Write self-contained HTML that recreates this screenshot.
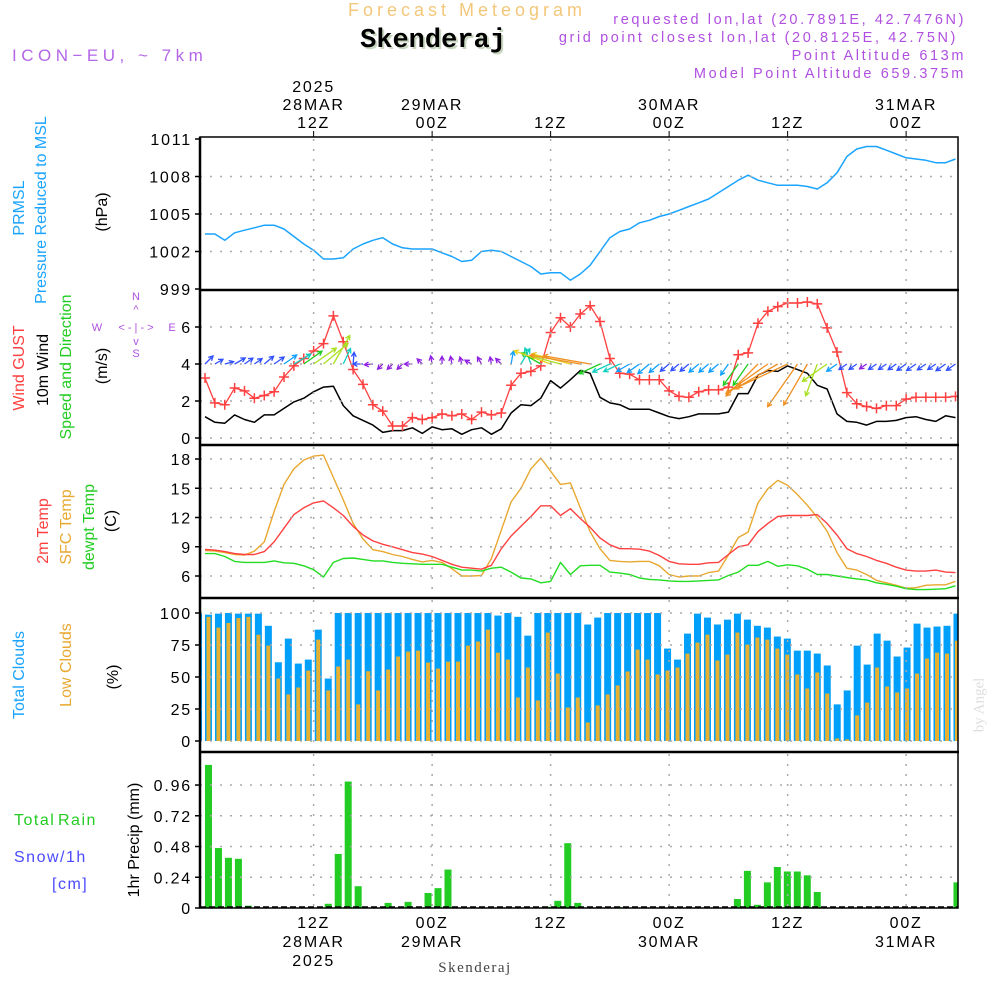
<!DOCTYPE html>
<html><head><meta charset="utf-8"><title>Forecast Meteogram Skenderaj</title>
<style>
html,body{margin:0;padding:0;background:#fff;}
svg{display:block;font-family:"Liberation Sans",sans-serif;}
.t{font-size:16px;fill:#000;letter-spacing:1.8px;}
</style></head>
<body>
<svg id="chart" width="1000" height="1000" viewBox="0 0 1000 1000" xmlns="http://www.w3.org/2000/svg">
<defs>
<clipPath id="cp"><rect x="200" y="137" width="758" height="771"/></clipPath>
</defs>
<text x="467" y="16" text-anchor="middle" font-size="18" fill="#f3c77a" letter-spacing="4">Forecast Meteogram</text>
<text x="435" y="49" text-anchor="middle" font-size="27" font-weight="bold" font-family="Liberation Mono, monospace" fill="#c9d6c0">Skenderaj</text>
<text x="433" y="47" text-anchor="middle" font-size="27" font-weight="bold" font-family="Liberation Mono, monospace" fill="#000">Skenderaj</text>
<text x="12" y="61" font-size="17" fill="#b366e8" letter-spacing="4.5">ICON−EU, ~ 7km</text>
<g font-size="14.5" fill="#b050e0" text-anchor="end" letter-spacing="2.6">
<text x="966" y="24">requested lon,lat (20.7891E, 42.7476N)</text>
<text x="958" y="42">grid point closest lon,lat (20.8125E, 42.75N)</text>
<text x="966" y="60">Point Altitude 613m</text>
<text x="966" y="78">Model Point Altitude 659.375m</text>
</g>
<g id="plots"></g>
<g id="labels"></g>
</svg>
<script>
// ---- data (hourly, 77 values) ----
const pressure = [1003.4,1003.4,1002.9,1003.5,1003.7,1003.9,1004.1,1004.1,1003.8,1003.2,
1002.6,1002.1,1001.4,1001.4,1001.5,1002.2,1002.6,1002.9,1003.1,1002.6,
1002.3,1002.2,1002.2,1002.2,1001.9,1001.6,1001.2,1001.3,1002.0,1002.1,
1002.0,1001.6,1001.2,1000.8,1000.2,1000.3,1000.3,999.7,1000.2,1000.9,
1002.0,1003.1,1003.6,1003.8,1004.3,1004.5,1004.8,1005.0,1005.3,1005.6,
1005.9,1006.2,1006.7,1007.2,1007.7,1008.1,1007.7,1007.5,1007.3,1007.3,
1007.3,1007.2,1007.0,1007.5,1008.3,1009.6,1010.2,1010.4,1010.4,1010.1,
1009.8,1009.5,1009.4,1009.3,1009.1,1009.1,1009.4];
const gust = [3.24,1.9,1.8,2.7,2.55,2.15,2.3,2.5,3.3,3.9,
4.3,4.7,5.1,6.6,5.2,3.7,2.9,1.8,1.45,0.65,
0.65,1.1,1.0,1.1,1.3,1.2,1.3,1.0,1.4,1.25,
1.35,2.85,3.5,3.6,3.9,5.7,6.5,6.0,6.7,7.15,
6.3,4.3,3.5,3.45,3.15,3.15,3.15,2.55,2.25,2.2,
2.5,2.6,2.6,2.75,4.5,4.6,6.2,6.85,7.1,7.3,
7.3,7.35,7.25,5.95,4.65,2.45,1.85,1.7,1.6,1.75,
1.75,2.1,2.2,2.2,2.2,2.2,2.25];
const windSpeed = [1.15,0.85,0.8,1.25,1.0,0.85,1.25,1.25,1.6,1.95,
2.15,2.5,2.75,2.8,1.75,1.2,0.95,0.7,0.3,0.4,
0.4,0.55,0.25,0.6,0.45,0.5,0.2,0.45,0.55,0.2,
0.5,1.35,1.8,1.75,2.15,3.1,2.7,3.15,3.65,3.5,
2.2,1.9,1.8,1.55,1.55,1.55,1.35,1.15,1.05,1.15,
1.3,1.3,1.3,1.4,2.4,2.4,3.4,3.65,3.6,3.9,
3.7,3.5,2.85,2.65,1.3,0.9,0.85,0.7,0.9,0.9,
0.95,1.1,1.15,1.0,0.9,1.2,1.1];
const windDir = [45,60,75,60,55,55,50,55,55,60,
55,55,50,30,25,5,270,265,225,225,
225,270,315,350,0,350,345,300,330,350,
315,10,30,340,300,290,285,285,280,280,
245,245,245,240,235,230,230,230,230,230,
230,230,230,215,215,215,225,235,240,245,
215,210,200,235,235,235,235,235,235,235,
235,235,235,235,235,235,235];
const temp2m = [8.72,8.66,8.5,8.3,8.2,8.2,8.5,9.5,10.9,12.3,
13.0,13.5,13.7,13.0,12.2,11.1,10.2,9.6,9.25,9.0,
8.7,8.4,8.25,8.0,7.6,7.2,6.9,6.8,6.7,7.1,
8.8,10.1,11.1,12.1,13.2,13.2,12.2,12.9,11.9,11.0,
9.9,9.2,8.8,8.8,8.75,8.55,8.1,7.5,7.25,7.2,
7.2,7.35,7.4,8.2,9.0,9.2,10.55,11.4,12.1,12.2,
12.2,12.2,12.3,11.4,10.2,8.8,8.3,8.0,7.6,7.3,
6.9,6.6,6.5,6.5,6.6,6.4,6.35];
const tempSfc = [8.6,8.55,8.4,8.2,8.15,8.55,9.5,12.6,15.4,17.0,
17.9,18.3,18.4,16.1,13.8,11.4,9.8,8.7,8.5,8.2,
8.0,7.7,7.45,7.6,7.4,6.75,6.0,6.0,6.05,7.8,
10.7,13.6,15.0,17.0,18.1,16.75,15.4,15.55,13.0,10.55,
8.8,7.6,7.5,7.45,7.5,7.5,7.05,6.15,5.9,6.0,
6.0,6.35,6.5,8.15,9.95,10.5,13.5,14.95,15.8,15.3,
14.35,13.25,12.0,10.6,8.4,6.8,6.6,6.15,5.55,5.3,
5.05,4.75,4.8,5.05,5.1,5.1,5.45];
const dewpoint = [8.3,8.3,8.0,7.5,7.4,7.4,7.4,7.55,7.35,7.3,
7.05,6.65,5.9,7.4,7.8,7.85,7.7,7.55,7.55,7.4,
7.3,7.25,7.2,7.2,7.2,6.9,6.6,6.6,6.5,6.8,
6.9,6.4,5.8,5.7,5.3,5.45,7.4,6.15,7.05,7.1,
7.1,6.4,6.3,6.15,5.8,5.65,5.6,5.5,5.45,5.45,
5.5,5.55,5.6,6.05,6.4,7.1,7.1,7.5,7.0,7.15,
7.05,6.7,6.15,6.15,6.0,5.85,5.7,5.6,5.3,5.15,
4.95,4.7,4.6,4.6,4.65,4.7,5.0];
const totalClouds = [99.5,98.7,99.5,100,99.5,99.5,99.5,90,61.5,80,
60.5,63.6,87,48.8,100,100,100,100,100,100,
100,100,100,100,100,100,100,100,100,100,
98,100,97,82.3,100,100,100,100,100,91,
96.4,100,100,100,100,100,100,72.2,63.6,83.9,
99.5,96.4,91,94.8,99.5,94.8,90,88.6,81.6,80,
70.6,70.6,68.3,59,28.6,39.5,74.5,59.7,83.9,78.4,
66,73,91.7,88.6,89.4,90,99.5];
const lowClouds = [97,97,88.6,92.2,96,97,83,74.5,48.8,36.4,
41.8,55,79.2,39.5,58.2,63.6,28.6,54.5,39.5,55.8,
66,69.9,70.6,61.3,56.6,62,62,74.5,77.7,87,
69,63.6,34,57.4,31.7,84.7,52.7,26.2,34,14.5,
27.8,36.4,43.4,54.3,71.4,63.6,52,55,57.4,68.3,
76.9,83.1,62.9,67.5,84.7,75.3,80.8,79.2,72.2,67.5,
52,41,53.5,37.1,2,1.3,20,30,57.4,42.6,
37.9,41,52.7,64.4,69,68.3,78.4];
const precip = [0,1.117,0.468,0.392,0.384,0.018,0,0,0,0,
0,0,0,0.033,0.422,0.987,0.17,0,0,0.04,
0,0.048,0,0.117,0.155,0.30,0.003,0,0,0,
0,0,0,0,0,0.01,0.056,0.506,0.04,0,
0,0,0.01,0,0,0,0,0,0,0,
0,0,0,0,0.07,0.29,0.025,0.20,0.32,0.285,
0.285,0.255,0.125,0,0,0,0,0,0,0,
0,0,0,0,0,0,0.20];
const timeTickLabels = ["12Z","00Z","12Z","00Z","12Z","00Z"];
const timeTickDates = ["28MAR","29MAR","","30MAR","","31MAR"];
const timeTickHours = [12,24,36,48,60,72];
const pTicks = [999,1002,1005,1008,1011];
const wTicks = [0,2,4,6];
const tTicks = [6,9,12,15,18];
const cTicks = [0,25,50,75,100];
const rTicks = [0,0.24,0.48,0.72,0.96];

// ---- scales ----
const X0 = 200, X1 = 958;
function xH(h){ return 205 + (h-1)*9.875; }
function xB(k){ return 198.5 + k*9.98; }
function yP(v){ return 289 - (v-999)*12.5; }
function yW(v){ return 438 - v*18.5; }
function yT(v){ return 576 - (v-6)*9.75; }
function yC(v){ return 741 - v*1.28; }
function yR(v){ return 908 - v*128.1; }

const NS = "http://www.w3.org/2000/svg";
const plots = document.getElementById('plots');
const labels = document.getElementById('labels');
function mk(tag, attrs, parent){
  const e = document.createElementNS(NS, tag);
  for (const k in attrs) e.setAttribute(k, attrs[k]);
  parent.appendChild(e);
  return e;
}
const clipG = mk('g', {'clip-path':'url(#cp)'}, plots);



const panels = [
  {name:'pressure', top:137, bot:290, ticks:pTicks, y:yP, fmt:v=>String(v)},
  {name:'wind', top:290, bot:445, ticks:wTicks, y:yW, fmt:v=>String(v)},
  {name:'temperature', top:445, bot:598, ticks:tTicks, y:yT, fmt:v=>String(v)},
  {name:'clouds', top:598, bot:752, ticks:cTicks, y:yC, fmt:v=>String(v)},
  {name:'precip', top:752, bot:908, ticks:rTicks, y:yR, fmt:v=>v===0?'0':v.toFixed(2)}
];
const gridG = mk('g', {}, plots);


panels.forEach(p=>{
  p.ticks.forEach(v=>{
    const yy = p.y(v);
    if (yy > p.top+3 && yy < p.bot-3) {
      const gl = mk('line', {x1:X0, x2:X1, y1:yy, y2:yy, stroke:'#aaa', 'stroke-width':1.5, 'stroke-dasharray':'2,8'}, gridG);
      
      
    }
    const tk = mk('line', {x1:195, x2:X0, y1:yy, y2:yy, stroke:'#000', 'stroke-width':1.5}, gridG);
    
    
    const tl = mk('text', {x:192, y:yy+6, 'text-anchor':'end', class:'t'}, labels);
    tl.textContent = p.fmt(v);
    
    
  });
  timeTickHours.forEach(h=>{
    const vl = mk('line', {x1:xH(h), x2:xH(h), y1:p.top+2, y2:p.bot-2, stroke:'#aaa', 'stroke-width':1.5, 'stroke-dasharray':'2,8'}, gridG);
    
    
  });
});

function polyline(arr, yf, color, w, parent){
  const pts = arr.map((v,i)=>xH(i+1).toFixed(1)+','+yf(v).toFixed(1)).join(' ');
  return mk('polyline', {points:pts, fill:'none', stroke:color, 'stroke-width':w, 'stroke-linejoin':'round'}, parent);
}
const pLine = polyline(pressure, yP, '#1aa4ff', 1.5, clipG);



const wLine = polyline(windSpeed, yW, '#000', 1.5, clipG);


const gLine = polyline(gust, yW, '#ff4040', 1.3, clipG);


gust.forEach((v,i)=>{
  const x = xH(i+1), y = yW(v);
  const m = mk('path', {d:`M${x-5},${y}H${x+5}M${x},${y-5}V${y+5}`, stroke:'#ff4040', 'stroke-width':1.5}, clipG);
  
  
});
const speedStops = [[0,'#9020e0'],[0.8,'#3050ff'],[1.3,'#10a0ff'],[1.7,'#10d0c0'],[2.1,'#20cc20'],[2.5,'#a8e020'],[2.9,'#e8d020'],[3.2,'#f09020']];
function speedColor(s){ let c = speedStops[0][1]; speedStops.forEach(st=>{ if (s >= st[0]) c = st[1]; }); return c; }
windSpeed.forEach((s,i)=>{
  const x = xH(i+1), y = 364;
  const a = windDir[i]*Math.PI/180;
  const L = Math.min(55, 7 + s*s*3.3);
  const hx = x + L*Math.sin(a), hy = y - L*Math.cos(a);
  const b1 = a + Math.PI - 0.5, b2 = a + Math.PI + 0.5;
  const d = `M${x.toFixed(1)},${y}L${hx.toFixed(1)},${hy.toFixed(1)}M${(hx+5*Math.sin(b1)).toFixed(1)},${(hy-5*Math.cos(b1)).toFixed(1)}L${hx.toFixed(1)},${hy.toFixed(1)}L${(hx+5*Math.sin(b2)).toFixed(1)},${(hy-5*Math.cos(b2)).toFixed(1)}`;
  const ar = mk('path', {d:d, stroke:speedColor(s), 'stroke-width':1.3, fill:'none'}, clipG);
  
  
});

const sfcLine = polyline(tempSfc, yT, '#e8a830', 1.4, clipG);


const t2Line = polyline(temp2m, yT, '#ff4040', 1.4, clipG);


const tdLine = polyline(dewpoint, yT, '#22dd22', 1.4, clipG);



totalClouds.forEach((v,k)=>{
  const r = mk('rect', {x:xB(k)-3.5, y:yC(v), width:7, height:yC(0)-yC(v), fill:'#009ffa'}, clipG);
  
  
});
lowClouds.forEach((v,k)=>{
  const r = mk('rect', {x:xB(k)-2, y:yC(v), width:4, height:yC(0)-yC(v), fill:'#e8b030'}, clipG);
  
  
});

precip.forEach((v,k)=>{
  if (v <= 0) return;
  const r = mk('rect', {x:xB(k)-3.5, y:yR(v), width:7, height:yR(0)-yR(v), fill:'#22cc22'}, clipG);
  
  
});
const zl = mk('line', {x1:X0, x2:X1, y1:907, y2:907, stroke:'#000', 'stroke-width':1.5, 'stroke-dasharray':'6,3'}, plots);



const frameG = mk('g', {}, plots);


const fr = mk('rect', {x:X0, y:137, width:X1-X0, height:771, fill:'none', stroke:'#000', 'stroke-width':1.5}, frameG);


[290,445,598,752].forEach(yy=>{
  const l = mk('line', {x1:X0, x2:X1+1, y1:yy, y2:yy, stroke:'#000', 'stroke-width':2.5}, frameG);
  
  
});
const lax = mk('line', {x1:X0, x2:X0, y1:137, y2:908, stroke:'#000', 'stroke-width':2.5}, frameG);



timeTickHours.forEach((h,i)=>{
  const x = xH(h);
  const tt = mk('line', {x1:x, x2:x, y1:131, y2:137, stroke:'#000', 'stroke-width':1}, labels);
  
  
  const a = mk('text', {x:x, y:128, 'text-anchor':'middle', class:'t'}, labels);
  a.textContent = timeTickLabels[i];
  
  
  const b = mk('text', {x:x, y:928, 'text-anchor':'middle', class:'t'}, labels);
  b.textContent = timeTickLabels[i];
  
  
  if (timeTickDates[i]) {
    const c = mk('text', {x:x, y:110, 'text-anchor':'middle', class:'t'}, labels);
    c.textContent = timeTickDates[i];
    
    
    const d = mk('text', {x:x, y:947, 'text-anchor':'middle', class:'t'}, labels);
    d.textContent = timeTickDates[i];
    
    
  }
  if (i === 0) {
    const e = mk('text', {x:x, y:92, 'text-anchor':'middle', class:'t'}, labels);
    e.textContent = '2025';
    
    
    const f = mk('text', {x:x, y:966, 'text-anchor':'middle', class:'t'}, labels);
    f.textContent = '2025';
    
    
  }
});

const vTitles = [
  ['PRMSL', 20, 208, '#1aa4ff', 'prmsl-title'],
  ['Pressure  Reduced to MSL', 42, 210, '#1aa4ff', 'pressure-title'],
  ['(hPa)', 103, 212, '#000', 'pressure-unit'],
  ['Wind GUST', 20, 368, '#ff4040', 'gust-title'],
  ['10m Wind', 44, 370, '#000', 'wind-title'],
  ['Speed and Direction', 67, 367, '#22cc22', 'wind-direction-title'],
  ['(m/s)', 103, 366, '#000', 'wind-unit'],
  ['2m Temp', 44, 531, '#ff4040', 'temp-2m-title'],
  ['SFC Temp', 67, 527, '#e8a830', 'sfc-temp-title'],
  ['dewpt Temp', 90, 527, '#22cc22', 'dewpoint-title'],
  ['(C)', 112, 521, '#000', 'temp-unit'],
  ['Total Clouds', 20, 675, '#1aa4ff', 'total-clouds-title'],
  ['Low Clouds', 67, 665, '#e8a830', 'low-clouds-title'],
  ['(%)', 114, 677, '#000', 'clouds-unit'],
  ['1hr Precip (mm)', 135, 840, '#000', 'precip-title']
];
vTitles.forEach(t=>{
  const e = mk('text', {x:t[1], y:t[2], fill:t[3], 'font-size':16, 'text-anchor':'middle', transform:`rotate(-90 ${t[1]} ${t[2]})`, 'dominant-baseline':'middle'}, labels);
  e.textContent = t[0];
  
  
});
const hTitles = [
  ['Total', 14, 825, '#22cc22', 'rain-title-total'],
  ['Rain', 58, 825, '#22cc22', 'rain-title'],
  ['Snow/1h', 14, 862, '#4a4aff', 'snow-title'],
  ['[cm]', 52, 889, '#4a4aff', 'snow-unit']
];
hTitles.forEach(t=>{
  const e = mk('text', {x:t[1], y:t[2], fill:t[3], 'font-size':16, 'letter-spacing':1.5}, labels);
  e.textContent = t[0];
  
  
});
const comp = mk('g', {fill:'#b050e0', 'font-size':11, 'text-anchor':'middle'}, labels);


[['N',136,300],['S',136,357],['W',97,331],['E',172,331],['<  -  |  -  >',136,331],['^',136,313],['v',136,345]].forEach(c=>{
  const e = mk('text', {x:c[1], y:c[2]}, comp);
  e.textContent = c[0];
  
  
});
const sk = mk('text', {x:475, y:972, 'text-anchor':'middle', 'font-family':'Liberation Serif, serif', 'font-size':15, fill:'#444', 'letter-spacing':1.5}, labels);
sk.textContent = 'Skenderaj';


const by = mk('text', {x:980, y:705, 'text-anchor':'middle', 'font-family':'Liberation Serif, serif', 'font-size':15, fill:'#ddd', transform:'rotate(-90 980 705)', 'dominant-baseline':'middle'}, labels);
by.textContent = 'by Angel';


</script>
</body></html>
